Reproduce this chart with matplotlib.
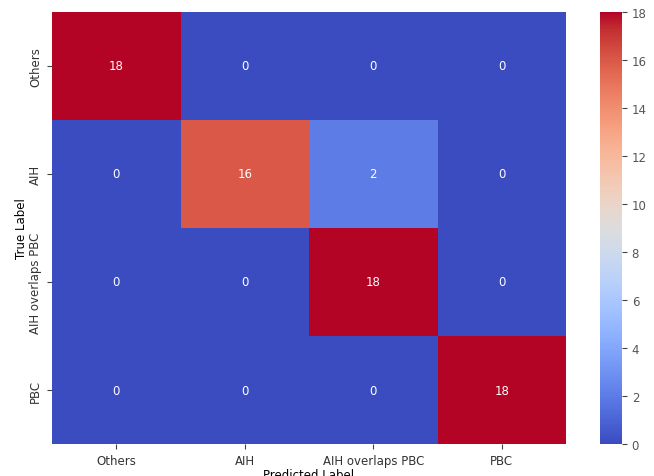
import matplotlib
matplotlib.use("Agg")
import matplotlib.pyplot as plt
import numpy as np
import seaborn as sns

labels = ["Others", "AIH", "AIH overlaps PBC", "PBC"]
row_others = [18, 0, 0, 0]
row_aih = [0, 16, 2, 0]
row_overlap = [0, 0, 18, 0]
row_pbc = [0, 0, 0, 18]

cm = np.array([row_others, row_aih, row_overlap, row_pbc])

fig = plt.figure(figsize=(6.54, 4.77), dpi=100)
ax = fig.add_axes([0.0795, 0.067, 0.786, 0.906])
cax = fig.add_axes([0.917, 0.067, 0.034, 0.906])

sns.heatmap(cm, annot=True, fmt="d", cmap="coolwarm", ax=ax, cbar_ax=cax,
            xticklabels=labels, yticklabels=labels,
            annot_kws={"fontsize": 8.5})
ax.set_xlabel("Predicted Label", fontsize=8.5, labelpad=1)
ax.set_ylabel("True Label", fontsize=8.5, labelpad=1)
ax.tick_params(labelsize=8.5, colors="#444444", labelcolor="#333333")
cax.tick_params(labelsize=8.5, colors="#444444", labelcolor="#555555")

fig.savefig("out.png", dpi=100)
